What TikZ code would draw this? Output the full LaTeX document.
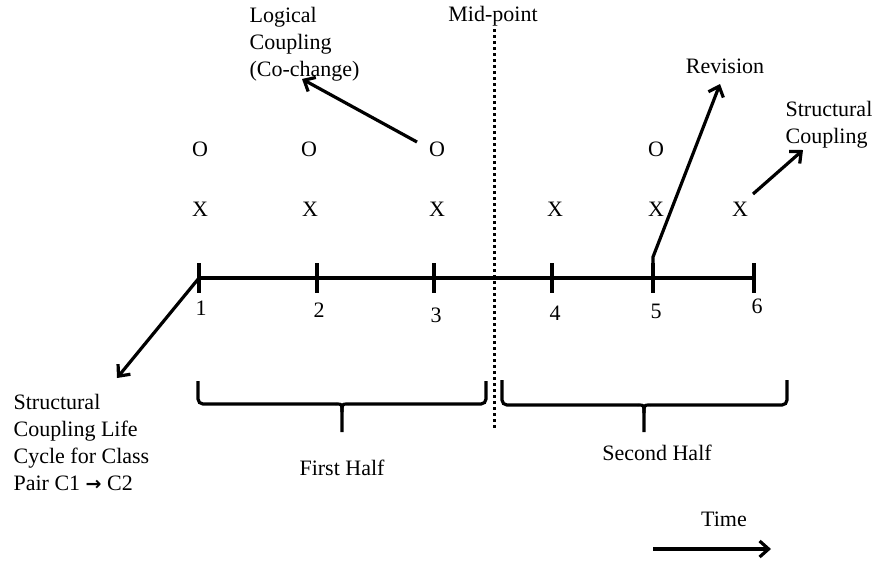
\documentclass[tikz,border=0pt]{standalone}
\usepackage{fontspec}
\setmainfont{Liberation Serif}
\usetikzlibrary{arrows.meta}

\begin{document}
\begin{tikzpicture}[x=1pt,y=-1pt,line width=3.2pt,
    txt/.style={font=\fontsize{22}{27}\selectfont,inner sep=0pt},
    lbl/.style={txt,anchor=base},
    arr/.style={-{Straight Barb[length=9pt,width=16pt]}},
    midline/.style={line width=3pt,dash pattern=on 3pt off 3pt}]
    \useasboundingbox (0,0) rectangle (883,560);

    % time axis
    \coordinate (t1) at (199,278);
    \coordinate (t2) at (317,278);
    \coordinate (t3) at (434,278);
    \coordinate (t4) at (552,278);
    \coordinate (t5) at (653,278);
    \coordinate (t6) at (754,278);
    \draw (t1)--(t6);
    \foreach \i in {1,...,6}
        \draw ([yshift=15pt]t\i)--([yshift=-15pt]t\i);

    \node[lbl] (n1) at (201,315) {1};
    \node[lbl] (n2) at (319,317) {2};
    \node[lbl] (n3) at (436,322) {3};
    \node[lbl] (n4) at (555,320) {4};
    \node[lbl] (n5) at (656,318) {5};
    \node[lbl] (n6) at (757,313) {6};

    % revisions
    \node[lbl] (o1) at (200,156) {O};
    \node[lbl] (o2) at (309,156) {O};
    \node[lbl] (o3) at (437,156) {O};
    \node[lbl] (o5) at (656,156) {O};
    \node[lbl] (x1) at (200,216) {X};
    \node[lbl] (x2) at (310,216) {X};
    \node[lbl] (x3) at (437,216) {X};
    \node[lbl] (x4) at (555,216) {X};
    \node[lbl] (x5) at (656,216) {X};
    \node[lbl] (x6) at (740,216) {X};

    % mid-point
    \node[lbl] (mid) at (493,21) {Mid-point};
    \coordinate (midtop) at (494,29);
    \coordinate (midbot) at (494,430);
    \draw[midline] (midtop)--(midbot);

    % labels with arrows
    \node[txt,anchor=north west,align=left] (logic) at (248,6) {Logical\\Coupling\\(Co-change)};
    \coordinate (logtail) at (417,142);
    \coordinate (logtip) at (302,79);
    \draw[arr] (logtail)--(logtip);

    \node[lbl] (rev) at (725,73) {Revision};
    \coordinate (revkink) at (653,257);
    \coordinate (revtip) at (720,84);
    \draw[arr] (t5)--(revkink)--(revtip);

    \node[txt,anchor=north west,align=left] (struct) at (784,100) {Structural\\Coupling};
    \coordinate (sttail) at (753,194);
    \coordinate (sttip) at (803,150);
    \draw[arr] (sttail)--(sttip);

    \node[txt,anchor=north west,align=left] (life) at (12,393) {Structural\\Coupling Life\\Cycle for Class\\Pair C1 {\fontspec{DejaVu Sans}\bfseries\fontsize{19}{27}\selectfont →} C2};
    \coordinate (lifetip) at (117,378);
    \draw[arr] (t1)--(lifetip);

    % halves
    \draw[rounded corners=5pt] (198,381)--(198,404)--(336,404);
    \draw (336,404) .. controls (342,404) .. (342,412)--(342,432);
    \draw[rounded corners=5pt] (486,381)--(486,404)--(348,404);
    \draw (348,404) .. controls (342,404) .. (342,412);
    \node[lbl] (first) at (342,475) {First Half};

    \draw[rounded corners=5pt] (502,380)--(502,405)--(638,405);
    \draw (638,405) .. controls (644,405) .. (644,413)--(644,432);
    \draw[rounded corners=5pt] (787,380)--(787,405)--(650,405);
    \draw (650,405) .. controls (644,405) .. (644,413);
    \node[lbl] (second) at (657,460) {Second Half};

    % time direction
    \node[lbl] (time) at (724,526) {Time};
    \coordinate (timestart) at (653,549);
    \coordinate (timeend) at (771,549);
    \draw[arr] (timestart)--(timeend);
\end{tikzpicture}
\end{document}
